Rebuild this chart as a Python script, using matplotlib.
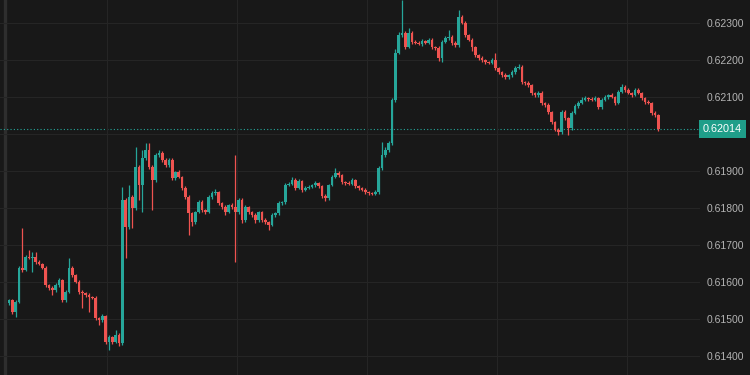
import numpy as np
import matplotlib.pyplot as plt
from matplotlib.transforms import blended_transform_factory

# closing prices of each candle, in 1e-5 units
close = [
    61552, 61520, 61547, 61639, 61633, 61668, 61666, 61669, 61655, 61649,
    61639, 61593, 61585, 61579, 61593, 61606, 61552, 61574, 61639, 61620,
    61601, 61574, 61571, 61566, 61560, 61558, 61504, 61498, 61509, 61439,
    61452, 61439, 61458, 61436, 61823, 61750, 61831, 61801, 61912, 61863,
    61936, 61958, 61912, 61877, 61944, 61950, 61931, 61917, 61931, 61882,
    61898, 61885, 61855, 61831, 61787, 61763, 61790, 61817, 61795, 61790,
    61831, 61841, 61844, 61814, 61804, 61790, 61809, 61804, 61790, 61823,
    61768, 61804, 61790, 61782, 61768, 61790, 61768, 61763, 61755, 61782,
    61787, 61814, 61817, 61863, 61866, 61877, 61855, 61874, 61850, 61855,
    61858, 61863, 61868, 61860, 61833, 61828, 61863, 61885, 61895, 61890,
    61871, 61868, 61867, 61877, 61860, 61855, 61850, 61844, 61841, 61840,
    61844, 61909, 61944, 61958, 61977, 62093, 62220, 62268, 62274, 62236,
    62274, 62250, 62247, 62245, 62252, 62247, 62255, 62236, 62233, 62206,
    62250, 62260, 62263, 62247, 62241, 62317, 62301, 62268, 62255, 62236,
    62214, 62206, 62201, 62195, 62193, 62201, 62179, 62168, 62160, 62155,
    62160, 62168, 62179, 62182, 62141, 62139, 62133, 62112, 62106, 62112,
    62085, 62079, 62060, 62033, 62012, 62006, 62060, 62044, 62017, 62058,
    62076, 62085, 62093, 62098, 62095, 62093, 62098, 62074, 62093, 62101,
    62106, 62101, 62085, 62114, 62128, 62120, 62112, 62106, 62120, 62112,
    62098, 62087, 62085, 62058, 62052, 62014,
]
first_open = 61544

# wick lengths above / below the body, in 1e-5 units
wick_up = [
    3, 4, 5, 4, 108, 5, 19, 13, 13, 4,
    3, 5, 3, 4, 5, 6, 3, 5, 27, 4,
    3, 5, 4, 3, 5, 3, 4, 3, 6, 3,
    5, 4, 13, 5, 35, 4, 32, 5, 54, 6,
    22, 19, 19, 5, 6, 8, 4, 5, 6, 5,
    4, 5, 3, 4, 5, 3, 4, 6, 5, 4,
    5, 6, 8, 4, 3, 5, 4, 5, 140, 6,
    4, 5, 3, 4, 5, 4, 3, 5, 4, 5,
    4, 5, 3, 6, 5, 8, 4, 5, 3, 4,
    5, 4, 6, 4, 3, 5, 4, 6, 14, 5,
    4, 3, 5, 4, 3, 4, 3, 4, 3, 4,
    5, 6, 35, 8, 6, 5, 10, 8, 89, 6,
    13, 4, 5, 4, 6, 4, 5, 4, 3, 5,
    4, 6, 19, 5, 4, 19, 5, 4, 3, 4,
    3, 4, 5, 3, 4, 6, 19, 4, 3, 5,
    4, 6, 5, 8, 4, 3, 5, 4, 3, 6,
    4, 3, 5, 4, 3, 4, 6, 5, 4, 6,
    5, 4, 8, 5, 4, 6, 5, 4, 5, 6,
    4, 5, 3, 6, 8, 4, 5, 3, 6, 4,
    3, 4, 5, 3, 4, 3,
]
wick_dn = [
    5, 6, 14, 4, 5, 3, 4, 38, 5, 3,
    4, 5, 6, 13, 4, 5, 6, 4, 3, 5,
    4, 6, 40, 5, 40, 4, 5, 13, 4, 6,
    22, 5, 4, 8, 5, 84, 6, 54, 5, 40,
    73, 5, 6, 82, 5, 4, 6, 5, 4, 6,
    5, 4, 6, 5, 59, 12, 5, 4, 6, 5,
    4, 5, 4, 6, 5, 8, 4, 5, 135, 5,
    8, 4, 5, 6, 8, 4, 6, 5, 14, 4,
    5, 4, 6, 5, 4, 3, 5, 4, 6, 4,
    3, 4, 5, 4, 6, 8, 5, 4, 3, 5,
    4, 6, 3, 5, 4, 5, 4, 6, 5, 3,
    4, 5, 6, 4, 5, 6, 5, 4, 5, 6,
    4, 5, 3, 4, 5, 3, 4, 6, 5, 8,
    11, 4, 5, 6, 5, 4, 3, 5, 4, 10,
    5, 4, 6, 5, 4, 3, 5, 6, 4, 5,
    6, 4, 5, 3, 4, 5, 4, 6, 5, 4,
    5, 4, 6, 5, 4, 8, 5, 4, 19, 6,
    4, 5, 3, 4, 5, 3, 4, 6, 5, 4,
    5, 4, 6, 4, 3, 5, 4, 5, 3, 4,
    5, 4, 3, 6, 4, 6,
]

last_price = 0.62014
price_ticks = [0.614, 0.615, 0.616, 0.617, 0.618, 0.619, 0.620, 0.621, 0.622, 0.623]

bg = '#181818'
grid_col = '#252525'
up_col = '#26a69a'
down_col = '#ef5350'
label_col = '#b4b4b4'

c = np.array(close) / 1e5
o = np.concatenate([[first_open / 1e5], c[:-1]])
h = np.maximum(o, c) + np.array(wick_up) / 1e5
l = np.minimum(o, c) - np.array(wick_dn) / 1e5
x = np.arange(len(c))
cols = np.where(c >= o, up_col, down_col)

plt.rcParams['font.family'] = ['Liberation Sans', 'DejaVu Sans']

fig = plt.figure(figsize=(7.5, 3.75), dpi=100, facecolor=bg)
ax = fig.add_axes([0, 0, 700 / 750, 1], facecolor=bg)

#candles: wicks then bodies
ax.vlines(x, l, h, colors=cols, lw=0.9, zorder=2)
body = np.maximum(np.abs(c - o), 0.000014)
ax.bar(x, body, bottom=np.minimum(o, c), width=0.8, color=cols, linewidth=0, zorder=3)

#grid
ax.set_xticks(np.arange(29.5, 200, 39))
ax.set_yticks(price_ticks)
ax.grid(True, color=grid_col, lw=0.8, zorder=0)
ax.axvline(-1.1, color='#2e2e2e', lw=2.4, zorder=1)

ax.set_xlim(-2.7, 207.5)
ax.set_ylim(0.613495, 0.62363)

for s in ax.spines.values():
    s.set_visible(False)
ax.tick_params(axis='x', length=0, labelbottom=False)
ax.yaxis.tick_right()
ax.tick_params(axis='y', length=0, pad=4.5, labelsize=7.5, labelcolor=label_col)
ax.set_yticklabels(['%.5f' % t for t in price_ticks])

#last price line and label (covers the 0.62000 tick like the original)
ax.axhline(last_price, color=up_col, ls=(0, (1, 2)), lw=0.8, zorder=1)
trans = blended_transform_factory(ax.transAxes, ax.transData)
ax.text(1.0 + 3 / 700, last_price, '%.5f' % last_price, transform=trans,
        ha='left', va='center', color='white', fontsize=7.8, zorder=5,
        bbox=dict(boxstyle='square,pad=0.35', fc='#1f9e89', ec='none'))

fig.savefig('out.png', dpi=100, facecolor=bg)
